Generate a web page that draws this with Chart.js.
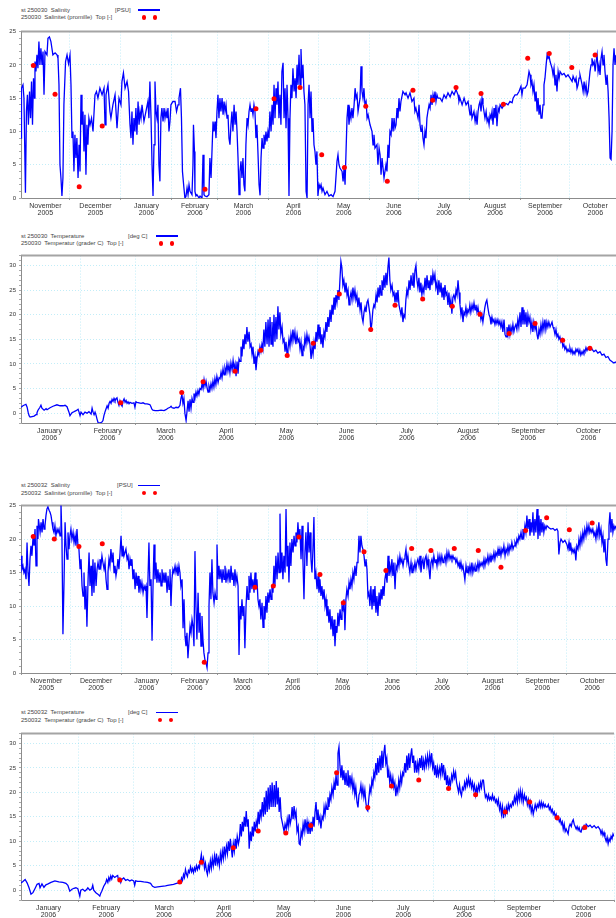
<!DOCTYPE html>
<html>
<head>
<meta charset="utf-8">
<title>St 250030 / 250032 salinity and temperature</title>
<script src="https://cdn.jsdelivr.net/npm/chart.js@4.4.1/dist/chart.umd.min.js"></script>
<style>
  html, body { margin: 0; padding: 0; background: #fff; }
  body { width: 616px; height: 918px; position: relative; overflow: hidden; font-family: 'Liberation Sans', Arial, sans-serif; }
  canvas { position: absolute; left: 0; }
  .lg { position: absolute; font-size: 6px; line-height: 7px; color: #444; white-space: pre; }
  .lgline { position: absolute; height: 1.4px; background: #0000ff; }
  .lgdot { position: absolute; width: 4.8px; height: 4.8px; border-radius: 50%; background: #ff0000; }
</style>
</head>
<body>
<canvas id="chart1" width="616" height="197" style="top:25px"></canvas>
<canvas id="chart2" width="616" height="198" style="top:249px"></canvas>
<canvas id="chart3" width="616" height="198" style="top:499px"></canvas>
<canvas id="chart4" width="616" height="197" style="top:727px"></canvas>
<script>
// month boundaries: days from 1 Nov 2005 (salinity plots) and from 1 Jan 2006 (temperature plots)
const salMonthStarts = [0, 30, 61, 92, 120, 151, 181, 212, 242, 273, 304, 334, 365];
const salMonths = ['November', 'December', 'January', 'February', 'March', 'April', 'May', 'June', 'July', 'August', 'September', 'October'];
const salYears = ['2005', '2005', '2006', '2006', '2006', '2006', '2006', '2006', '2006', '2006', '2006', '2006'];
const tempMonthStarts = [0, 31, 59, 90, 120, 151, 181, 212, 243, 273, 304];
const tempMonths = ['January', 'February', 'March', 'April', 'May', 'June', 'July', 'August', 'September', 'October'];
const tempYears = ['2006', '2006', '2006', '2006', '2006', '2006', '2006', '2006', '2006', '2006'];
const salLabels = [0, 5, 10, 15, 20, 25];
const tempLabels = [0, 5, 10, 15, 20, 25, 30];

// st 250030 salinity [PSU], [day since 1 Nov 2005, value]
const sal30 = [[0.2,9],[0.5,16.5],[1.4,17],[2.0,15],[2.9,0.8],[3.5,13],[4.1,15.5],[4.7,11],[5.4,16],[6.0,12],[6.6,17.5],[7.2,11],[7.8,18],[8.4,15],[8.7,20.5],[9.3,19],[9.9,21.5],[10.5,19.5],[11.1,23.5],[11.7,20],[12.3,22.5],[13.0,20],[13.6,22],[14.2,15.5],[14.8,22],[16.0,21.5],[16.6,24],[17.5,24.2],[18.4,23.5],[19.0,22.5],[19.6,21.5],[20.9,21.8],[22.1,21.5],[22.7,21],[23.3,17],[23.9,5],[24.5,3],[25.1,0.3],[25.7,3],[26.3,14],[27.3,20.5],[28.2,21.5],[29.1,20.2],[30.0,21.5],[30.6,17],[31.2,9],[31.8,10],[32.4,4],[33.0,9.5],[33.6,6],[34.2,9],[34.9,3],[35.5,8],[36.1,4],[36.7,15.5],[37.3,11],[37.9,13],[38.5,7],[39.1,12.5],[39.7,3.5],[40.3,11],[40.9,8],[41.5,12],[42.2,11],[43.1,12],[44.0,10],[45.2,15.5],[46.1,16],[47.0,15],[48.2,16.5],[49.5,15.5],[50.7,16.5],[51.3,11],[51.9,15.5],[53.1,17],[53.7,15],[54.3,13],[54.9,12],[56.1,14],[57.4,15.5],[58.6,10.5],[59.8,15],[61.0,14],[61.6,17.5],[62.5,18.8],[63.5,16.5],[64.7,17.5],[65.6,16],[66.5,11],[67.1,9],[67.7,13],[68.3,8],[68.9,12],[69.5,10],[70.1,13.5],[70.7,9.5],[71.4,14.5],[72.0,11],[72.6,13],[73.2,12],[73.8,14],[75.0,11.5],[76.2,13],[77.4,14.5],[78.0,12],[78.6,17.5],[79.3,12],[79.9,5],[80.5,0.3],[81.1,8],[81.7,17.5],[82.3,13],[82.9,12],[83.5,14],[84.1,5],[84.7,2.5],[85.3,12],[85.9,13.5],[86.6,11.5],[87.2,13.5],[87.8,12],[88.4,13],[89.0,12],[89.6,13.5],[90.2,10],[90.8,11.5],[91.4,14],[92.6,14.5],[93.9,14.5],[94.8,13],[95.7,14],[96.3,15],[97.2,16.5],[97.8,12],[98.4,4],[99.3,1.5],[99.9,0],[100.5,0.2],[101.2,1.5],[101.8,0.5],[102.4,2],[103.0,1],[104.2,0.5],[104.8,5],[105.1,11],[105.7,7],[106.0,1],[106.6,0.3],[107.2,0.5],[108.5,0],[109.1,0.3],[110.3,0],[110.9,6.5],[111.5,0.5],[112.1,0.3],[113.3,0.2],[114.5,0.5],[115.1,6],[115.8,3],[117.0,11.5],[117.6,10],[118.2,11.5],[118.8,9],[119.4,13],[120.0,15.5],[120.6,12],[121.2,15],[121.8,13],[122.5,15],[123.1,12.5],[123.7,14.5],[124.3,13],[124.9,14],[125.5,12],[126.1,12.5],[126.7,9],[127.3,8],[127.9,11],[128.5,13],[129.1,10],[129.8,14],[130.4,11],[131.0,13],[131.6,10],[132.2,6],[132.8,0.5],[133.4,4],[134.0,5.5],[134.6,3],[135.2,6],[135.8,2],[136.4,1],[137.0,8],[137.7,12],[138.3,11],[138.9,13],[139.5,14],[140.1,13],[140.7,13.5],[141.3,12.5],[141.9,14],[142.5,13],[143.1,9],[143.7,11],[144.3,7],[145.0,2],[145.6,0.4],[146.2,6],[146.8,9],[147.4,7.5],[148.0,9.5],[148.6,8],[149.2,10],[149.8,8.5],[150.4,10],[151.0,9],[151.6,13],[152.3,10],[152.9,14],[153.5,11],[154.1,17],[154.7,12],[155.3,16.5],[155.9,14],[156.5,17.5],[157.1,12],[157.7,15.5],[158.3,11],[158.9,19],[159.6,20.3],[160.2,12],[160.8,16.5],[161.4,10.5],[162.0,17],[162.6,12],[163.2,0.3],[163.8,12],[164.4,17],[165.0,15],[165.6,19.5],[166.3,16],[166.9,18],[167.5,15],[168.1,20],[168.7,17],[169.3,21.5],[169.9,17],[170.5,22.4],[171.1,18],[171.7,20],[172.3,16],[172.9,14],[173.6,1],[174.2,0],[174.8,14],[175.4,17],[176.0,12],[176.6,16],[177.2,10],[177.8,12],[178.4,8],[179.0,7],[179.6,5],[180.2,7],[180.8,0.3],[181.5,2],[182.1,1.5],[182.7,2],[183.3,1],[183.9,1.5],[185.1,0.5],[186.3,1],[187.5,0.3],[188.8,0.5],[190.0,0.2],[191.2,1],[192.4,5.5],[193.0,6.5],[193.6,5],[194.2,4.5],[195.5,4],[196.1,2.5],[196.7,4.5],[197.3,2],[197.9,7],[198.5,12],[199.1,14],[199.7,11],[200.3,13],[200.9,12],[201.5,13.5],[202.1,12],[202.8,14],[203.4,16.5],[204.0,15],[204.6,15.5],[205.2,13],[205.8,14],[206.4,15],[207.0,19.8],[207.6,16],[208.2,15],[208.8,16.5],[209.4,14],[210.1,14.5],[210.7,12],[211.3,12.5],[212.5,11],[213.7,10],[214.3,8],[214.9,9.5],[215.5,7.5],[216.7,8],[217.3,5],[218.0,7.5],[218.6,6.5],[219.2,3.5],[219.8,6],[220.4,4.5],[221.0,3],[222.2,5],[222.8,4],[223.4,8],[224.0,6],[224.6,10],[225.3,9.5],[225.9,12],[226.5,10],[227.1,12],[227.7,10.5],[228.3,11],[228.9,13.5],[229.5,12],[230.1,15],[230.7,13],[231.3,14.5],[232.5,16],[233.8,15.5],[234.4,15.8],[235.6,15],[236.8,15.8],[238.0,14.5],[239.2,15],[239.8,13],[240.4,13.5],[241.7,12],[242.3,14],[242.9,11],[243.5,10],[244.1,11],[244.7,9],[245.3,8],[245.9,10],[246.5,9],[247.1,12],[247.7,13],[248.4,14],[249.0,13.5],[249.6,15.5],[250.2,14],[250.8,15.5],[251.4,14.5],[252.0,16],[252.6,14.5],[253.2,15.5],[253.8,15],[255.1,15],[256.3,14.5],[257.5,15.5],[258.7,15],[259.9,15.8],[261.2,15.2],[262.4,16],[263.6,15.5],[264.8,16.3],[266.0,15.5],[266.6,14.5],[267.2,15],[268.5,14],[269.7,15],[270.9,14],[272.1,14.5],[272.7,13.5],[273.3,12.5],[273.9,14],[274.5,12],[275.7,13],[276.4,11.5],[277.0,12.5],[277.6,11],[278.2,13],[278.8,14],[279.4,14.5],[280.0,13],[280.6,15],[281.2,14],[281.8,13],[282.4,12],[283.1,13],[283.7,11.5],[284.3,12],[284.9,11],[285.5,12.5],[286.1,12],[286.7,13],[287.3,11],[287.9,13.5],[288.5,12],[289.1,14],[289.7,10.8],[290.4,13.5],[291.0,13],[291.6,14],[292.8,13.5],[294.0,14],[295.2,14.2],[296.4,14],[297.6,14.5],[298.9,14.3],[299.5,15],[300.7,15.5],[301.9,15.5],[303.1,16],[304.3,16.8],[304.9,15.5],[305.5,16.5],[306.8,16.5],[308.0,17],[308.6,18],[309.2,19],[309.8,18.5],[310.4,17],[311.0,17.5],[311.6,16],[312.2,17],[312.9,14.5],[313.5,16],[314.1,13],[314.7,15],[315.3,12.5],[315.9,14],[316.5,12],[317.1,12],[317.7,14],[318.3,17],[318.9,18],[319.6,20],[320.2,21.5],[320.8,21],[321.4,21.3],[322.0,20.5],[322.6,20],[323.2,19.5],[323.8,18.5],[324.4,19.5],[325.0,17],[325.6,18.5],[326.2,16],[326.9,19],[327.5,18],[328.1,19],[329.3,18.5],[330.5,18.7],[331.7,18.2],[332.9,18.5],[334.2,18],[335.4,17.5],[336.0,18.3],[337.2,17.5],[337.8,18],[338.4,16.5],[339.0,17],[339.6,18],[340.2,18.5],[341.5,17],[342.1,16],[342.7,17.5],[343.3,16],[343.9,17],[344.5,15.5],[345.1,16],[345.7,17.5],[346.3,19],[346.9,20],[347.5,21],[348.1,20],[348.8,20.5],[349.4,19],[350.0,20.5],[350.6,21.5],[351.2,19],[351.8,20],[352.4,18.5],[353.0,21],[353.6,22],[354.2,20],[354.8,21.5],[355.4,19],[356.1,17],[356.7,18.5],[357.3,16],[357.9,12],[358.5,6],[359.1,5.8],[359.7,10],[360.3,20],[360.9,22.5],[361.5,20],[362.1,21.5]];
// 250030 Salinitet (promille), Top
const sal30Obs = [[7.7,19.9],[20.9,15.6],[35.6,1.7],[49.6,10.8],[112.1,1.3],[143.1,13.4],[154.1,14.9],[169.9,16.6],[183.1,6.5],[196.9,4.6],[209.9,13.8],[223.0,2.5],[238.6,16.2],[250.6,14.7],[264.8,16.6],[280.0,15.7],[293.6,14.1],[308.4,21.0],[321.5,21.7],[335.2,19.6],[349.4,21.5]];

// st 250030 temperature [deg C], [day since 1 Jan 2006, value]
const temp30 = [[1.1,1.2],[2.1,1.5],[3.1,1.7],[3.6,1.8],[4.2,1.2],[4.7,0.2],[5.2,-0.5],[5.7,-0.8],[6.7,-0.7],[7.7,-0.6],[8.7,-0.3],[9.2,0.1],[9.7,0.6],[10.7,1.2],[11.2,1.6],[11.7,1.0],[12.8,0.6],[13.8,0.9],[14.3,0.7],[15.8,1.1],[17.3,1.4],[19.3,1.7],[20.9,1.5],[22.4,1.5],[23.4,1.6],[24.4,1.3],[25.4,0.2],[25.9,-0.5],[26.9,0.1],[28.0,0.3],[29.0,0.5],[30.0,0.8],[30.5,0.2],[31.0,-0.5],[31.5,0.2],[32.5,-0.3],[33.5,0.2],[34.5,0],[35.5,0.3],[36.6,-0.2],[37.1,1.0],[37.6,0.2],[38.1,-0.3],[38.6,0.2],[39.1,-0.4],[39.6,-1.2],[40.1,-1.9],[41.1,-2.0],[42.1,-1.8],[42.6,-1.5],[43.1,-0.5],[43.6,0.2],[44.1,0.8],[44.7,1.5],[45.2,1.0],[45.7,2.0],[46.2,2.4],[46.7,2.0],[47.2,2.8],[47.7,2.4],[48.2,3.0],[48.7,2.5],[49.2,2.9],[49.7,3.1],[50.2,2.2],[50.7,1.6],[51.2,2.5],[51.7,1.8],[52.3,1.4],[52.8,2.5],[53.3,2.9],[53.8,2.2],[54.3,2.6],[54.8,2.0],[55.3,2.3],[55.8,1.9],[56.3,2.2],[57.3,2.0],[58.3,2.1],[58.8,1.2],[59.3,2.3],[59.8,2.2],[60.9,2.1],[61.9,2.0],[62.9,2.1],[63.9,1.9],[64.9,1.9],[65.9,1.8],[66.4,1.7],[66.9,1.3],[67.4,0.8],[67.9,0.6],[69.0,0.5],[70.5,0.5],[72.0,0.6],[73.5,0.5],[74.5,0.7],[75.5,1.0],[76.6,1.2],[77.1,1.4],[77.6,1.1],[78.6,1.0],[79.6,1.2],[80.6,1.1],[81.1,1.3],[81.6,1.6],[82.1,3.0],[82.6,3.8],[83.1,2.0],[83.6,3.0],[84.1,0],[84.7,-1.5],[85.2,0.5],[85.7,2.5],[86.2,0.3],[86.7,2.8],[87.2,1.0],[87.7,3.0],[88.2,2.2],[88.7,4.0],[89.2,3.0],[89.7,4.3],[90.2,3.5],[90.7,4.6],[91.2,3.8],[91.7,5.0],[92.3,4.8],[92.8,6.0],[93.3,5.0],[93.8,6.8],[94.3,5.5],[94.8,6.5],[95.3,5.2],[95.8,4.3],[96.3,5.5],[96.8,4.7],[97.3,6.0],[97.8,5.0],[98.3,6.5],[98.8,5.3],[99.3,7.0],[99.8,5.8],[100.3,7.5],[100.9,6.2],[101.4,7.2],[101.9,7.0],[102.4,8.3],[102.9,7.2],[103.4,9.0],[103.9,7.8],[104.4,9.2],[104.9,8.3],[105.4,10.0],[105.9,8.5],[106.4,9.8],[106.9,8.2],[107.4,10.2],[108.0,8.8],[108.5,10.7],[109.0,9.0],[109.5,10.0],[110.0,7.5],[110.5,10.5],[111.0,8.0],[111.5,11.0],[112.0,10.5],[112.5,13.5],[113.0,11.5],[113.5,15.0],[114.0,13.0],[114.5,16.0],[115.0,14.0],[115.5,17.5],[116.0,14.5],[116.6,16.5],[117.1,13.5],[117.6,14.0],[118.1,12.0],[118.6,13.5],[119.1,10.0],[119.6,11.5],[120.1,8.7],[120.6,11.0],[121.1,12.5],[121.6,11.8],[122.1,13.5],[122.6,12.5],[123.1,14.0],[123.6,13.0],[124.1,17.0],[124.6,13.5],[125.1,18.5],[125.7,14.0],[126.2,19.0],[126.7,13.5],[127.2,19.5],[127.7,14.0],[128.2,18.5],[128.7,13.5],[129.2,20.0],[129.7,14.5],[130.2,19.5],[130.7,15.0],[131.2,21.7],[131.7,17.0],[132.2,20.5],[132.7,16.0],[133.3,17.5],[133.8,14.5],[134.3,15.0],[134.8,12.5],[135.3,14.5],[135.8,12.0],[136.3,13.0],[136.8,15.0],[137.3,13.5],[137.8,16.0],[138.3,14.5],[138.8,17.0],[139.3,15.0],[139.8,16.5],[140.3,14.0],[140.9,16.0],[141.4,14.5],[141.9,15.0],[142.4,13.0],[142.9,14.5],[143.4,11.7],[143.9,13.5],[144.4,13.0],[144.9,15.5],[145.4,14.0],[145.9,16.0],[146.4,14.5],[146.9,15.5],[147.4,14.0],[148.0,11.0],[148.5,13.5],[149.0,12.0],[149.5,14.5],[150.0,13.0],[150.5,16.5],[151.0,14.5],[151.5,18.0],[152.0,15.0],[152.5,17.5],[153.0,14.0],[153.5,16.0],[154.0,13.3],[154.5,16.5],[155.0,15.5],[155.5,18.5],[156.0,16.5],[156.5,19.5],[157.0,17.5],[157.6,21.0],[158.1,18.5],[158.6,22.0],[159.1,20.0],[159.6,23.5],[160.1,21.0],[160.6,24.0],[161.1,22.5],[161.6,25.0],[162.1,23.0],[162.6,27.0],[163.1,30.8],[163.6,29.5],[164.1,26.0],[164.6,27.0],[165.2,24.5],[165.7,26.5],[166.2,24.0],[166.7,25.0],[167.2,22.0],[167.7,23.5],[168.2,24.5],[168.7,23.0],[169.2,25.5],[169.7,23.5],[170.2,25.0],[170.7,23.0],[171.2,24.0],[171.7,21.5],[172.2,23.5],[172.8,21.0],[173.3,22.5],[173.8,19.5],[174.3,18.5],[174.8,20.5],[175.3,21.5],[175.8,20.5],[176.3,22.5],[176.8,23.0],[177.3,21.5],[177.8,20.0],[178.3,16.5],[178.8,18.5],[179.3,21.0],[179.8,22.0],[180.3,21.5],[180.9,24.0],[181.4,22.5],[181.9,25.5],[182.4,23.5],[182.9,26.0],[183.4,24.0],[183.9,27.0],[184.4,25.0],[184.9,28.0],[185.4,25.5],[185.9,28.5],[186.4,26.0],[186.9,29.5],[187.4,31.6],[187.9,27.0],[188.4,25.0],[189.0,26.0],[189.5,24.0],[190.0,24.5],[190.5,22.5],[191.0,24.5],[191.5,22.5],[192.0,25.0],[192.5,22.0],[193.0,21.0],[193.5,20.0],[194.0,21.5],[194.5,18.5],[195.0,20.0],[195.5,19.5],[196.0,23.0],[196.5,25.0],[197.0,24.0],[197.6,27.0],[198.1,25.0],[198.6,28.0],[199.1,26.0],[199.6,28.5],[200.1,25.5],[200.6,29.0],[201.1,30.0],[201.6,27.0],[202.1,25.5],[202.6,27.5],[203.1,24.5],[203.6,26.5],[204.1,24.0],[204.6,25.5],[205.1,24.5],[205.7,27.5],[206.2,25.0],[206.7,28.0],[207.2,25.5],[207.7,27.0],[208.2,25.0],[208.7,28.0],[209.2,26.0],[209.7,28.4],[210.2,27.0],[210.7,28.2],[211.2,25.5],[211.7,26.5],[212.2,24.0],[212.7,27.0],[213.3,24.5],[213.8,26.5],[214.3,23.5],[214.8,25.5],[215.3,23.0],[215.8,26.0],[216.3,24.0],[216.8,24.5],[217.3,22.0],[217.8,24.5],[218.3,21.5],[218.8,23.0],[219.3,20.2],[219.8,23.5],[220.3,24.0],[220.9,23.0],[221.4,25.0],[221.9,24.0],[222.4,27.0],[222.9,24.5],[223.4,22.0],[223.9,20.0],[224.4,21.5],[224.9,18.5],[225.4,20.5],[225.9,20.0],[226.4,21.5],[226.9,20.0],[227.4,21.0],[227.9,20.5],[228.4,22.0],[228.9,20.5],[229.5,22.0],[230.0,21.0],[230.5,22.4],[231.0,21.0],[231.5,22.0],[232.0,20.5],[232.5,21.5],[233.0,20.0],[233.5,20.5],[234.0,19.0],[234.5,20.0],[235.0,18.5],[235.5,20.0],[236.0,21.5],[236.5,22.5],[237.0,23.0],[237.5,21.5],[238.1,20.0],[238.6,19.5],[239.1,18.0],[239.6,19.5],[240.1,18.5],[240.6,19.0],[241.1,18.0],[241.6,19.0],[242.1,18.2],[242.6,19.0],[243.1,18.0],[243.6,18.7],[244.1,17.5],[244.6,18.5],[245.1,16.5],[245.7,19.0],[246.2,16.0],[246.7,15.5],[247.2,17.5],[247.7,16.0],[248.2,18.0],[248.7,16.0],[249.2,17.5],[249.7,16.5],[250.2,18.0],[250.7,16.5],[251.2,17.5],[251.7,18.0],[252.2,17.0],[252.7,19.0],[253.2,17.5],[253.8,20.5],[254.3,17.5],[254.8,21.5],[255.3,18.0],[255.8,21.0],[256.3,18.0],[256.8,20.5],[257.3,17.5],[257.8,20.0],[258.3,18.5],[258.8,19.5],[259.3,17.0],[259.8,18.5],[260.3,16.5],[260.8,18.5],[261.4,17.0],[261.9,18.0],[262.4,16.0],[262.9,15.0],[263.4,17.0],[263.9,16.0],[264.4,18.0],[264.9,16.5],[265.4,18.5],[265.9,17.0],[266.4,19.0],[266.9,17.0],[267.4,18.5],[267.9,17.5],[268.4,18.5],[269.0,17.5],[269.5,18.0],[270.0,18.5],[270.5,17.5],[271.0,17.0],[271.5,16.0],[272.0,17.0],[272.5,15.5],[273.0,16.0],[273.5,15.0],[274.0,15.5],[274.5,14.5],[275.0,15.0],[275.5,13.5],[276.0,14.0],[276.5,13.0],[277.0,13.5],[277.6,12.5],[278.1,13.0],[278.6,12.5],[279.1,13.2],[279.6,12.3],[280.1,13.0],[280.6,12.0],[281.1,12.5],[281.6,12.0],[282.1,13.0],[282.6,12.5],[283.1,13.0],[283.6,12.0],[284.1,12.8],[284.6,11.8],[285.2,12.5],[285.7,12.0],[286.2,12.8],[286.7,12.5],[287.2,13.3],[287.7,12.7],[288.2,13.2],[289.2,12.8],[290.2,13.0],[291.2,12.5],[292.2,12.8],[293.2,12.2],[294.3,12.5],[295.3,11.8],[296.3,12.0],[297.3,11.3],[298.3,11.5],[299.3,10.8],[300.3,10.5],[301.3,10.2],[302.4,10.4]];
// 250030 Temperatur (grader C), Top
const temp30Obs = [[51.6,2.1],[82.5,4.2],[93.3,6.4],[109.5,8.5],[122.5,12.8],[135.9,11.7],[149.1,14.2],[162.3,24.2],[178.2,17.0],[190.5,21.9],[204.5,23.2],[219.5,21.7],[233.5,20.1],[248.3,16.2],[261.4,18.2],[275.4,14.8],[289.2,13.2]];

// st 250032 salinity [PSU], [day since 1 Nov 2005, value]
const sal32 = [[-0.5,17.5],[0.1,15.5],[0.7,16],[1.3,15],[1.9,15.5],[2.6,14],[3.2,19.5],[3.8,15],[4.4,13],[5.0,17],[5.6,19],[6.2,17.5],[6.9,20.5],[7.5,19],[8.1,21.5],[8.7,16],[9.3,22],[9.9,20],[10.2,23],[11.2,21],[11.8,22.5],[12.4,21],[13.0,23],[13.6,21.5],[14.2,22],[14.8,23.5],[15.4,24.5],[16.0,24.8],[16.7,24.3],[17.3,24],[17.9,23.5],[18.5,22.5],[19.1,21.5],[19.7,21],[20.3,22],[20.9,20.5],[21.6,21.5],[22.2,21],[22.8,21.5],[23.4,20.5],[24.0,25.3],[24.6,20],[25.2,5.8],[25.9,14],[26.5,22.5],[27.1,19],[27.7,17],[28.3,21],[28.9,18.5],[29.5,20.5],[30.1,21.5],[30.7,20],[31.4,21],[32.0,19.5],[32.6,20.5],[33.2,19],[33.8,21.5],[34.4,19],[35.0,18.5],[35.7,15.5],[36.3,17],[36.9,13],[37.5,11.5],[38.1,15],[38.7,9.5],[39.3,13],[39.9,6.9],[40.6,14],[41.2,18],[41.8,13],[42.4,16],[43.0,11.5],[43.6,17],[44.2,12],[44.8,16.5],[45.5,13],[46.1,15.5],[46.7,16.5],[47.3,15.5],[47.9,17],[48.5,16],[49.1,17.5],[49.7,16.5],[50.4,15.5],[51.0,16.5],[51.6,14],[52.2,12.5],[52.8,15],[53.4,17],[54.0,16],[54.6,18.5],[55.3,16.5],[55.9,18],[56.5,15],[57.1,16],[57.7,14.5],[58.3,15.5],[58.9,17],[59.5,15.5],[60.2,18],[60.8,20.5],[61.4,17.5],[62.0,19],[62.6,17.5],[63.8,18.5],[64.5,17],[65.1,17.5],[65.7,15.5],[66.3,17],[66.9,16],[67.5,17],[68.1,14],[68.7,15.5],[69.4,12.5],[70.0,15],[70.6,13],[71.2,14.5],[71.8,12],[72.4,14],[73.0,12.5],[73.6,13.5],[74.3,12],[74.9,13],[75.5,12.5],[76.1,13],[76.7,8.2],[77.3,14],[77.9,19.5],[78.5,13],[79.2,14],[79.8,4.8],[80.4,13],[81.0,19.2],[81.6,14],[82.2,16.5],[82.8,13.5],[83.4,15.5],[84.1,13.5],[84.7,15],[85.3,13],[85.9,15.5],[86.5,13.5],[87.1,15],[87.7,13.5],[88.3,15],[89.0,12],[89.6,14.5],[90.2,12.5],[90.8,15.5],[91.4,10],[92.0,14],[92.6,15.5],[93.2,15],[93.9,16],[94.5,15],[95.1,15.8],[95.7,14.5],[96.3,16],[96.9,15],[97.5,13],[98.2,14],[98.8,6.7],[99.4,11],[100.0,5.5],[100.6,4],[101.2,6],[101.8,2.2],[102.4,4.5],[103.1,7],[103.7,6],[104.3,8],[104.9,7],[105.5,4],[106.1,18.2],[106.7,10],[107.3,5],[108.0,12],[108.6,6],[109.2,9],[109.8,4],[110.4,8.5],[111.0,5],[111.6,3],[112.2,2],[112.9,1.5],[113.5,0.8],[114.1,3],[114.7,10],[115.3,15],[115.9,11],[116.5,17],[117.1,12],[117.8,10.5],[118.4,12],[119.0,11],[119.6,19.2],[120.2,14],[120.8,16],[121.4,14],[122.0,15.5],[122.7,13.5],[123.3,15.5],[123.9,14],[124.5,16],[125.1,13.5],[125.7,15],[126.3,14],[126.9,15.5],[127.6,13.5],[128.2,16],[128.8,14],[129.4,15],[130.0,13],[130.6,15.5],[131.2,13.5],[131.8,14.5],[132.5,13],[133.1,2.7],[133.7,10],[134.3,8],[134.9,11],[135.5,8.5],[136.1,10],[136.7,3.7],[137.4,10],[138.0,13],[138.6,11],[139.2,14.5],[139.8,12],[140.4,15],[141.0,12.5],[141.6,14],[142.3,12],[142.9,15],[143.5,12.5],[144.1,14],[144.7,11],[145.3,10],[145.9,11],[146.5,8],[147.2,10.5],[147.8,6.8],[148.4,10],[149.0,8],[149.6,11.5],[150.2,9],[150.8,12],[151.4,10.5],[152.1,12.5],[152.7,11],[153.3,13],[153.9,12],[154.5,16],[155.1,13],[155.7,17.5],[156.4,14],[157.0,18],[157.6,15],[158.2,23.8],[158.8,15],[159.4,18],[160.0,14],[160.6,17.5],[161.3,15],[161.9,24.5],[162.5,16],[163.1,19],[163.7,13.5],[164.3,19.5],[164.9,16],[165.5,20],[166.2,18],[166.8,20.5],[167.4,19],[168.0,21],[168.6,19.5],[169.2,22.5],[169.8,20],[170.4,21.5],[171.1,17],[171.7,22],[172.3,16.5],[172.9,11],[173.5,18],[174.1,21],[174.7,16],[175.4,22.5],[176.0,18],[176.6,21],[177.2,17],[177.8,15],[178.4,18.5],[179.0,23.3],[179.6,14],[180.2,15],[180.9,12.5],[181.5,14.5],[182.1,12],[182.7,14],[183.3,11.5],[183.9,13],[184.5,11],[185.2,12.5],[185.8,10],[186.4,11],[187.0,8.5],[187.6,10],[188.2,7.5],[188.8,9.5],[189.4,6.5],[190.1,8.5],[190.7,5.5],[191.3,8],[191.9,4],[192.5,7],[193.1,6],[193.7,9],[194.3,7],[195.0,9.5],[195.6,8],[196.2,10],[196.8,9.5],[197.4,11],[198.0,6.4],[198.6,11],[199.2,12.5],[199.9,11.5],[200.5,13.5],[201.1,12.5],[201.7,14],[202.3,13],[202.9,15],[203.5,14],[204.1,16],[204.8,14.5],[205.4,16.5],[206.0,17],[206.6,20.5],[207.2,18],[207.8,20.5],[208.4,19],[209.0,18.5],[209.7,17.5],[210.3,16],[210.9,17],[211.5,15.5],[212.1,11.5],[212.7,12],[213.3,10],[213.9,13],[214.6,9.5],[215.2,12.5],[215.8,10],[216.4,13],[217.0,9],[217.6,11.5],[218.2,8.5],[218.9,12],[219.5,10],[220.1,12.5],[220.7,11],[221.3,13],[221.9,11.5],[222.5,14],[223.1,15],[223.8,13.5],[224.4,17.5],[225.0,14.5],[225.6,16],[226.2,15],[226.8,17],[227.4,14.5],[228.0,16.5],[228.7,12.5],[229.3,16],[229.9,15.5],[230.5,17],[231.1,16],[231.7,17.5],[232.3,16.5],[232.9,17],[233.6,16],[234.2,17],[234.8,17.5],[235.4,18.5],[236.0,16.5],[236.6,17.5],[237.2,16],[237.8,15],[238.5,16.5],[239.1,15],[239.7,16],[240.3,15.5],[240.9,16.5],[241.5,15.5],[242.1,16.5],[242.7,17],[243.4,16],[244.0,17.5],[244.6,15],[245.2,16.5],[245.8,17],[246.4,15.5],[247.0,17],[247.7,17.5],[248.3,16],[248.9,17],[249.5,15.5],[250.1,14],[250.7,16.5],[251.3,17],[251.9,16],[252.5,17.5],[253.2,16.5],[253.8,17],[254.4,16],[255.0,17.5],[255.6,16.5],[256.2,17.5],[256.8,16.5],[257.4,17.5],[258.1,16.5],[258.7,17],[259.3,17.5],[259.9,16.5],[260.5,18],[261.1,17],[261.7,18],[262.4,17],[263.0,17.5],[263.6,17],[264.2,17.5],[264.8,17],[265.4,17.2],[266.0,16.5],[266.6,17],[267.3,16],[267.9,16.5],[268.5,15.5],[269.1,16.5],[269.7,15.5],[270.3,16],[270.9,15],[271.5,13.9],[272.2,16],[272.8,15],[273.4,16],[274.0,15],[274.6,16],[275.2,15],[275.8,16.5],[276.4,15],[277.1,16],[277.7,15.2],[278.3,16],[278.9,15.5],[279.5,16.5],[280.1,15.5],[280.7,16.5],[281.3,16],[282.0,16.5],[282.6,16],[283.2,17],[283.8,16],[284.4,17],[285.0,16.5],[285.6,17.5],[286.2,16.5],[286.9,17.5],[287.5,16.5],[288.1,17.5],[288.7,17],[289.3,18],[289.9,17],[290.5,18],[291.2,17.5],[291.8,18.5],[292.4,17.5],[293.0,18.5],[293.6,17.5],[294.2,18.5],[294.8,18],[295.4,19],[296.1,17.5],[296.7,18.5],[297.3,18],[297.9,19],[298.5,18],[299.1,19],[299.7,18.5],[300.3,19.5],[301.0,18.5],[301.6,19],[302.2,19.5],[302.8,19],[303.4,20],[304.0,19.5],[304.6,20.5],[305.2,20],[305.9,21],[306.5,20],[307.1,21.5],[307.7,20.5],[308.3,22],[308.9,21],[309.5,23.5],[310.1,21.5],[310.8,23],[311.4,20.5],[312.0,22.5],[312.6,21],[313.2,24],[313.8,20.5],[314.4,23],[315.0,21],[315.7,24.5],[316.3,20],[316.9,23.5],[317.5,20.5],[318.1,23],[318.7,21],[319.3,22.5],[319.9,21],[320.5,22],[321.2,21.5],[321.8,22],[323.0,21.7],[324.2,21.5],[325.5,21.6],[326.7,21.3],[327.9,21.5],[328.5,21.2],[329.1,17.7],[329.8,19.5],[330.4,20],[331.6,19.5],[332.8,19.8],[334.0,19.2],[334.7,18.5],[335.3,19.5],[335.9,18.2],[336.5,19],[337.1,18],[337.7,18.5],[338.3,18],[338.9,18.5],[339.5,16.8],[340.1,19],[340.8,18.5],[341.4,20],[342.0,19],[342.6,20.5],[343.2,19.5],[343.8,21],[344.4,20],[345.0,21.5],[345.7,20.5],[346.3,22],[346.9,21],[347.5,22],[348.1,21],[348.7,21.5],[349.3,21],[349.9,21.5],[350.6,20.5],[351.2,21],[351.8,20],[352.4,21.5],[353.0,20.5],[353.6,22.5],[354.2,20.5],[354.9,21.5],[355.5,19.5],[356.1,20.5],[356.7,18],[357.3,20],[357.9,17],[358.5,16],[359.2,20],[359.8,22],[360.4,24],[361.0,21],[361.6,23],[362.2,21],[362.8,22],[363.4,21.5],[364.1,22]];
// 250032 Salinitet (promille), Top
const sal32Obs = [[7.0,20.4],[19.9,20.0],[35.0,18.9],[49.3,19.3],[111.8,1.6],[142.9,12.8],[154.1,13.0],[169.8,20.3],[182.7,14.7],[197.0,10.5],[209.7,18.1],[223.1,15.3],[238.9,18.6],[250.7,18.3],[265.0,18.6],[279.7,18.3],[293.6,15.8],[308.7,21.3],[321.6,23.2],[335.5,21.4],[349.5,22.4]];

// st 250032 temperature [deg C], [day since 1 Jan 2006, value]
const temp32 = [[1.5,1.5],[2.5,1.8],[3.6,2.2],[4.6,1.5],[5.6,0.5],[6.6,-0.8],[7.6,-0.5],[8.6,0.3],[9.7,1.2],[10.7,1.4],[11.2,0.5],[12.2,1.3],[13.2,0.6],[14.2,1.1],[15.3,1.3],[16.8,1.6],[18.8,1.9],[20.8,1.7],[22.9,1.6],[24.4,1.4],[25.4,1.0],[26.4,-0.2],[27.5,0.2],[28.5,0.4],[29.5,0.5],[30.5,0.3],[31.5,-1.2],[32.0,0],[33.0,0.2],[34.1,-0.2],[35.1,0.2],[35.6,0.5],[36.6,0],[37.6,0.3],[38.1,1.0],[38.6,0],[39.7,-0.5],[40.7,-0.8],[41.7,-1.2],[42.2,-0.6],[42.7,-0.2],[43.7,0.8],[44.7,1.5],[45.2,2.2],[45.8,1.6],[46.3,2.6],[46.8,2.0],[47.3,2.9],[47.8,2.3],[48.3,3.0],[49.3,2.6],[50.3,2.9],[50.8,3.0],[51.3,2.0],[51.9,2.4],[52.4,1.6],[52.9,2.2],[53.9,2.5],[54.9,2.0],[55.9,2.2],[57.0,1.9],[58.0,2.1],[59.0,1.9],[59.5,1.0],[60.0,1.9],[61.0,1.8],[62.5,1.8],[64.1,1.7],[66.1,1.6],[67.6,1.4],[68.6,0.8],[69.7,0.6],[71.2,0.7],[73.2,0.8],[75.2,0.9],[76.3,1.0],[77.8,1.1],[79.3,1.2],[80.8,1.4],[81.9,1.5],[82.9,1.7],[83.4,2.5],[83.9,2.0],[84.4,3.2],[84.9,2.6],[85.4,4.2],[85.9,3.3],[86.4,2.8],[86.9,4.0],[87.4,3.6],[88.0,4.8],[88.5,3.8],[89.0,4.4],[89.5,3.6],[90.0,4.6],[90.5,4.0],[91.0,5.0],[91.5,4.2],[92.0,5.0],[92.5,4.5],[93.0,6.0],[93.5,7.3],[94.0,5.5],[94.6,6.5],[95.1,4.5],[95.6,5.5],[96.1,4.0],[96.6,3.2],[97.1,5.0],[97.6,4.0],[98.1,6.0],[98.6,4.5],[99.1,6.5],[99.6,5.0],[100.2,7.0],[100.7,5.0],[101.2,7.5],[101.7,5.5],[102.2,6.5],[102.7,5.0],[103.2,7.5],[103.7,6.0],[104.2,8.0],[104.7,6.5],[105.2,8.9],[105.7,7.0],[106.3,9.0],[106.8,7.5],[107.3,10.0],[107.8,8.0],[108.3,10.5],[108.8,8.5],[109.3,6.7],[109.8,9.5],[110.3,8.0],[110.8,10.5],[111.3,8.5],[111.8,11.0],[112.4,9.5],[112.9,10.5],[113.4,13.5],[113.9,11.0],[114.4,14.0],[114.9,12.0],[115.4,15.0],[115.9,13.0],[116.4,16.2],[116.9,13.0],[117.4,14.5],[117.9,8.5],[118.5,12.0],[119.0,10.0],[119.5,13.0],[120.0,11.0],[120.5,14.0],[121.0,12.0],[121.5,14.0],[122.0,13.0],[122.5,16.0],[123.0,13.5],[123.5,16.5],[124.0,15.0],[124.6,18.0],[125.1,15.0],[125.6,19.0],[126.1,15.5],[126.6,20.3],[127.1,16.0],[127.6,21.0],[128.1,16.5],[128.6,21.5],[129.1,17.0],[129.6,22.0],[130.1,17.0],[130.7,21.5],[131.2,17.0],[131.7,22.3],[132.2,17.5],[132.7,21.0],[133.2,16.0],[133.7,19.0],[134.2,15.0],[134.7,14.0],[135.2,13.0],[135.7,12.0],[136.2,13.5],[136.8,12.5],[137.3,14.5],[137.8,13.0],[138.3,15.5],[138.8,13.5],[139.3,14.5],[139.8,17.0],[140.3,14.5],[140.8,17.2],[141.3,15.0],[141.8,16.0],[142.3,12.0],[142.9,13.0],[143.4,9.5],[143.9,9.3],[144.4,12.0],[144.9,11.0],[145.4,13.5],[145.9,12.0],[146.4,14.5],[146.9,12.5],[147.4,14.0],[147.9,11.5],[148.4,13.5],[149.0,11.5],[149.5,14.0],[150.0,12.0],[150.5,15.0],[151.0,13.0],[151.5,16.0],[152.0,18.0],[152.5,14.5],[153.0,16.5],[153.5,14.0],[154.0,15.0],[154.5,12.6],[155.1,15.0],[155.6,14.5],[156.1,17.0],[156.6,15.5],[157.1,17.5],[157.6,16.5],[158.1,19.0],[158.6,17.0],[159.1,19.5],[159.6,18.5],[160.1,21.0],[160.7,19.5],[161.2,22.0],[161.7,20.5],[162.2,23.6],[162.7,21.5],[163.2,28.0],[163.7,29.3],[164.2,25.5],[164.7,23.0],[165.2,25.5],[165.7,22.5],[166.2,24.5],[166.8,21.5],[167.3,24.0],[167.8,21.5],[168.3,24.5],[168.8,21.0],[169.3,23.5],[169.8,21.5],[170.3,23.0],[170.8,20.5],[171.3,22.0],[171.8,19.5],[172.3,21.0],[172.9,18.0],[173.4,16.9],[173.9,19.5],[174.4,20.0],[174.9,21.5],[175.4,19.5],[175.9,21.0],[176.4,19.0],[176.9,20.5],[177.4,18.0],[177.9,16.5],[178.4,16.2],[179.0,19.0],[179.5,21.0],[180.0,20.0],[180.5,22.5],[181.0,21.5],[181.5,24.0],[182.0,23.0],[182.5,26.0],[183.0,23.5],[183.5,27.0],[184.0,24.0],[184.6,27.5],[185.1,24.5],[185.6,28.5],[186.1,25.0],[186.6,28.0],[187.1,29.7],[187.6,26.0],[188.1,27.0],[188.6,23.0],[189.1,24.5],[189.6,22.0],[190.1,23.5],[190.7,21.5],[191.2,23.0],[191.7,21.0],[192.2,22.0],[192.7,19.2],[193.2,21.0],[193.7,20.0],[194.2,22.5],[194.7,21.0],[195.2,23.5],[195.7,22.0],[196.2,24.0],[196.7,23.5],[197.3,26.0],[197.8,24.0],[198.3,27.5],[198.8,24.5],[199.3,28.0],[199.8,25.0],[200.3,27.5],[200.8,29.0],[201.3,26.0],[201.8,27.5],[202.3,24.0],[202.8,26.5],[203.4,24.0],[203.9,26.0],[204.4,24.5],[204.9,27.0],[205.4,25.0],[205.9,27.5],[206.4,24.5],[206.9,26.5],[207.4,25.0],[207.9,27.0],[208.4,25.5],[208.9,27.5],[209.5,25.5],[210.0,27.7],[210.5,26.0],[211.0,28.0],[211.5,25.0],[212.0,26.0],[212.5,23.5],[213.0,25.5],[213.5,23.0],[214.0,25.0],[214.5,23.5],[215.1,25.0],[215.6,23.5],[216.1,26.0],[216.6,24.0],[217.1,25.6],[217.6,22.5],[218.1,24.0],[218.6,21.5],[219.1,23.5],[219.6,20.8],[220.1,22.5],[220.6,21.5],[221.2,23.5],[221.7,22.5],[222.2,24.3],[222.7,23.0],[223.2,24.0],[223.7,22.0],[224.2,21.0],[224.7,20.0],[225.2,21.5],[225.7,20.0],[226.2,19.3],[226.7,21.0],[227.3,20.5],[227.8,22.0],[228.3,21.0],[228.8,22.5],[229.3,21.5],[229.8,23.0],[230.3,21.5],[230.8,22.5],[231.3,21.0],[231.8,22.0],[232.3,20.5],[232.8,21.5],[233.4,19.5],[233.9,21.0],[234.4,20.0],[234.9,21.5],[235.4,20.5],[235.9,22.0],[236.4,21.0],[236.9,22.5],[237.4,22.5],[237.9,20.5],[238.4,19.0],[238.9,19.5],[239.5,18.5],[240.0,19.5],[240.5,18.5],[241.0,19.0],[241.5,18.5],[242.0,19.5],[242.5,18.5],[243.0,19.0],[243.5,18.0],[244.0,18.5],[244.5,17.5],[245.0,18.5],[245.6,16.5],[246.1,17.5],[246.6,15.5],[247.1,17.0],[247.6,14.7],[248.1,16.5],[248.6,15.5],[249.1,17.0],[249.6,16.0],[250.1,17.5],[250.6,16.5],[251.1,17.5],[251.7,17.0],[252.2,18.0],[252.7,17.5],[253.2,19.0],[253.7,18.0],[254.2,19.5],[254.7,18.0],[255.2,20.0],[255.7,18.5],[256.2,20.3],[256.7,18.5],[257.2,20.0],[257.7,18.0],[258.3,19.5],[258.8,18.5],[259.3,19.0],[259.8,17.5],[260.3,18.5],[260.8,17.0],[261.3,18.0],[261.8,16.0],[262.3,17.0],[262.8,15.5],[263.3,16.5],[263.8,17.5],[264.4,16.5],[264.9,17.5],[265.4,17.0],[265.9,18.0],[266.4,17.0],[266.9,18.0],[267.4,17.0],[267.9,17.8],[268.4,17.0],[268.9,17.5],[269.4,17.0],[269.9,17.0],[270.5,17.5],[271.0,16.5],[271.5,17.0],[272.0,16.0],[272.5,16.5],[273.0,15.5],[273.5,16.0],[274.0,15.0],[274.5,15.5],[275.0,14.5],[275.5,15.0],[276.1,14.0],[276.6,14.5],[277.1,13.5],[277.6,14.0],[278.1,12.5],[278.6,13.5],[279.1,12.0],[279.6,12.5],[280.1,12.0],[280.6,11.5],[281.1,13.0],[281.6,13.5],[282.2,13.0],[282.7,14.0],[283.2,14.4],[283.7,13.5],[284.2,13.0],[284.7,12.5],[285.2,13.0],[285.7,12.3],[286.2,12.8],[286.7,12.0],[287.2,11.9],[287.8,12.8],[288.3,12.5],[288.8,13.2],[289.3,12.8],[289.8,13.5],[290.8,13.0],[291.8,13.3],[292.8,12.8],[293.9,13.2],[294.9,12.7],[295.9,13.0],[296.9,12.4],[297.4,11.5],[297.9,12.2],[298.4,11.2],[298.9,11.8],[299.4,10.8],[300.0,10.0],[300.5,10.8],[301.0,9.5],[301.5,10.5],[302.0,10.0],[302.5,11.0],[303.0,10.5],[303.5,11.5],[304.0,11.0]];
// 250032 Temperatur (grader C), Top
const temp32Obs = [[51.9,2.1],[82.5,1.7],[93.5,5.7],[109.8,8.7],[122.5,12.1],[136.6,11.7],[149.3,13.2],[162.5,24.0],[178.4,16.9],[190.5,21.3],[204.4,22.5],[219.6,20.8],[233.4,19.5],[248.5,16.0],[261.0,18.0],[275.0,14.8],[289.1,12.8]];

const FONT = "'Liberation Sans', Arial, Helvetica, sans-serif";
const GRID = 'rgba(120, 215, 240, 0.45)';
const CLEAR = 'rgba(0,0,0,0)';

// grey frame on top, left and bottom; the right side is cut off in the original
const framePlugin = {
    id: 'frame',
    beforeDatasetsDraw(chart) {
        const { ctx, chartArea: a } = chart;
        ctx.save();
        ctx.strokeStyle = '#a4a4a4';
        ctx.lineWidth = 2;
        ctx.beginPath();
        ctx.moveTo(a.left, a.top);
        ctx.lineTo(a.right, a.top);
        ctx.stroke();
        ctx.strokeStyle = '#8c8c8c';
        ctx.lineWidth = 1;
        ctx.beginPath();
        ctx.moveTo(a.left + 0.5, a.top);
        ctx.lineTo(a.left + 0.5, a.bottom + 0.5);
        ctx.lineTo(a.right, a.bottom + 0.5);
        ctx.stroke();
        ctx.restore();
    }
};

function buildChart(id, opt) {
    // month boundaries carry the grid lines, month middles carry the labels
    const xItems = [];
    opt.monthStarts.forEach((s, i) => {
        xItems.push({ value: s, label: '', major: true });
        if (i < opt.months.length) {
            xItems.push({ value: (s + opt.monthStarts[i + 1]) / 2, label: [opt.months[i], opt.years[i]], major: false });
        }
    });
    const xTicks = xItems.filter(t => t.value >= opt.xMin && t.value <= opt.xMax);

    const yTicks = [];
    for (let v = Math.ceil(opt.yMin); v <= opt.yMax; v++) {
        const labelled = opt.yLabels.includes(v);
        yTicks.push({ value: v, label: labelled ? String(v) : '', major: labelled && v > opt.yMin && v < opt.yMax });
    }

    return new Chart(document.getElementById(id), {
        type: 'line',
        data: {
            datasets: [
                {
                    label: opt.obsName,
                    data: opt.obs.map(([x, y]) => ({ x, y })),
                    showLine: false,
                    pointRadius: 2.5,
                    pointBackgroundColor: '#ff0000',
                    pointBorderWidth: 0,
                    borderWidth: 0,
                    order: 0,
                    clip: false
                },
                {
                    label: opt.lineName,
                    data: opt.line.map(([x, y]) => ({ x, y })),
                    borderColor: '#0000ff',
                    borderWidth: 1.3,
                    pointRadius: 0,
                    tension: 0,
                    fill: false,
                    order: 1
                }
            ]
        },
        options: {
            responsive: false,
            animation: false,
            devicePixelRatio: 1,
            events: [],
            layout: { autoPadding: false, padding: { top: 5, left: 0, right: 0, bottom: 0 } },
            plugins: { legend: { display: false }, tooltip: { enabled: false } },
            scales: {
                x: {
                    type: 'linear',
                    min: opt.xMin,
                    max: opt.xMax,
                    afterBuildTicks: ax => { ax.ticks = xTicks.map(t => ({ value: t.value })); },
                    afterFit: ax => { ax.height = 24; },
                    ticks: {
                        autoSkip: false,
                        maxRotation: 0,
                        padding: 2,
                        color: '#333',
                        font: { family: FONT, size: 7, lineHeight: 1.1 },
                        callback: (v, i) => xTicks[i] ? xTicks[i].label : ''
                    },
                    grid: {
                        color: c => (xTicks[c.index] && xTicks[c.index].major) ? GRID : CLEAR,
                        tickColor: c => (xTicks[c.index] && xTicks[c.index].major) ? '#999' : CLEAR,
                        tickLength: 2
                    },
                    border: { display: false, dash: [1, 2] }
                },
                y: {
                    min: opt.yMin,
                    max: opt.yMax,
                    afterBuildTicks: ax => { ax.ticks = yTicks.map(t => ({ value: t.value })); },
                    afterFit: ax => { ax.width = 21; },
                    ticks: {
                        autoSkip: false,
                        padding: 3,
                        color: '#333',
                        font: { family: FONT, size: 6 },
                        callback: (v, i) => yTicks[i] ? yTicks[i].label : ''
                    },
                    grid: {
                        color: c => (yTicks[c.index] && yTicks[c.index].major) ? GRID : CLEAR,
                        tickColor: '#aaa',
                        tickLength: 2
                    },
                    border: { display: false, dash: [1, 2] }
                }
            }
        },
        plugins: [framePlugin]
    });
}

buildChart('chart1', {
    line: sal30, obs: sal30Obs, lineName: 'st 250030 Salinity', obsName: '250030 Salinitet (promille) Top',
    xMin: 0.2, xMax: 362.1, yMin: 0, yMax: 25, yLabels: salLabels,
    monthStarts: salMonthStarts, months: salMonths, years: salYears
});
buildChart('chart2', {
    line: temp30, obs: temp30Obs, lineName: 'st 250030 Temperature', obsName: '250030 Temperatur (grader C) Top',
    xMin: 1.1, xMax: 302.4, yMin: -2, yMax: 32, yLabels: tempLabels,
    monthStarts: tempMonthStarts, months: tempMonths, years: tempYears
});
buildChart('chart3', {
    line: sal32, obs: sal32Obs, lineName: 'st 250032 Salinity', obsName: '250032 Salinitet (promille) Top',
    xMin: -0.5, xMax: 364.1, yMin: 0, yMax: 25, yLabels: salLabels,
    monthStarts: salMonthStarts, months: salMonths, years: salYears
});
buildChart('chart4', {
    line: temp32, obs: temp32Obs, lineName: 'st 250032 Temperature', obsName: '250032 Temperatur (grader C) Top',
    xMin: 1.5, xMax: 304.0, yMin: -2, yMax: 32, yLabels: tempLabels,
    monthStarts: tempMonthStarts, months: tempMonths, years: tempYears
});

// legends above each plot
const legendRows = [
    { y: 10, name: 'st 250030  Salinity', unit: '[PSU]', unitX: 115, lineX: 138, obs: '250030  Salinitet (promille)  Top [-]', dotX: 144 },
    { y: 236, name: 'st 250030  Temperature', unit: '[deg C]', unitX: 128, lineX: 156, obs: '250030  Temperatur (grader C)  Top [-]', dotX: 161 },
    { y: 485.7, name: 'st 250032  Salinity', unit: '[PSU]', unitX: 117, lineX: 138, obs: '250032  Salinitet (promille)  Top [-]', dotX: 144 },
    { y: 712.7, name: 'st 250032  Temperature', unit: '[deg C]', unitX: 128, lineX: 156, obs: '250032  Temperatur (grader C)  Top [-]', dotX: 160 }
];

function addEl(cls, text, left, top, width) {
    const el = document.createElement('div');
    el.className = cls;
    if (text) el.textContent = text;
    el.style.left = left + 'px';
    el.style.top = top + 'px';
    if (width) el.style.width = width + 'px';
    document.body.appendChild(el);
}

legendRows.forEach(r => {
    addEl('lg', r.name, 21, r.y - 3.5);
    addEl('lg', r.unit, r.unitX, r.y - 3.5);
    addEl('lgline', '', r.lineX, r.y - 0.7, 22);
    addEl('lg', r.obs, 21, r.y + 7.3 - 3.5);
    addEl('lgdot', '', r.dotX - 2.4, r.y + 7.3 - 2.4);
    addEl('lgdot', '', r.dotX + 11 - 2.4, r.y + 7.3 - 2.4);
});
</script>
</body>
</html>
